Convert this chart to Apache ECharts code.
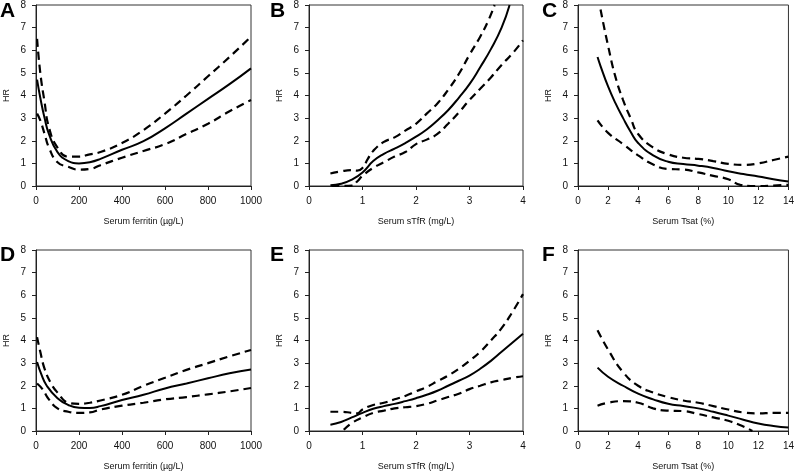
<!DOCTYPE html>
<html>
<head>
<meta charset="utf-8">
<script src="https://cdn.jsdelivr.net/npm/echarts@6/dist/echarts.min.js"></script>
<style>
html,body{margin:0;padding:0;background:#fff;}
#c{width:797px;height:475px;}
</style>
</head>
<body>
<div id="c"></div>
<script>
// ---------- Data ----------
var panelLetters = ['A', 'B', 'C', 'D', 'E', 'F'];
var xNames = ['Serum ferritin (\u00b5g/L)', 'Serum sTfR (mg/L)', 'Serum Tsat (%)'];
var xMax = [1000, 4, 14];
var xInterval = [200, 1, 2];

// Panel A (ferritin, top)
var A_hrX = [5, 20, 40, 60, 100, 150, 200, 250, 300, 400, 500, 600, 700, 800, 900, 1000];
var A_hr = [4.7, 3.9, 3.0, 2.3, 1.5, 1.1, 1.0, 1.05, 1.2, 1.6, 1.98, 2.55, 3.2, 3.85, 4.5, 5.2];
var A_upX = [5, 20, 40, 60, 100, 150, 200, 250, 300, 400, 500, 600, 700, 800, 900, 1000];
var A_up = [6.5, 5.0, 3.7, 2.6, 1.7, 1.3, 1.3, 1.4, 1.5, 1.9, 2.47, 3.2, 4.0, 4.85, 5.7, 6.6];
var A_loX = [5, 20, 40, 60, 100, 150, 200, 250, 300, 400, 500, 600, 700, 800, 900, 1000];
var A_lo = [3.2, 2.9, 2.3, 1.7, 1.05, 0.85, 0.72, 0.75, 0.92, 1.25, 1.55, 1.85, 2.3, 2.75, 3.3, 3.8];

// Panel B (sTfR, top)
var B_hrX = [0.4, 0.6, 0.8, 1.0, 1.2, 1.4, 1.6, 1.8, 2.0, 2.2, 2.4, 2.6, 2.8, 3.0, 3.2, 3.4, 3.6, 3.75];
var B_hr = [0.03, 0.1, 0.28, 0.6, 1.1, 1.42, 1.65, 1.9, 2.18, 2.5, 2.9, 3.35, 3.9, 4.5, 5.25, 6.05, 7.0, 8.0];
var B_upX = [0.4, 0.6, 0.8, 0.9, 1.0, 1.1, 1.2, 1.4, 1.6, 1.8, 2.0, 2.2, 2.4, 2.6, 2.8, 3.0, 3.2, 3.35, 3.47];
var B_up = [0.55, 0.65, 0.7, 0.68, 0.8, 1.2, 1.55, 1.95, 2.15, 2.45, 2.75, 3.2, 3.65, 4.25, 4.95, 5.8, 6.6, 7.3, 8.0];
var B_loX = [0.42, 0.8, 0.9, 1.0, 1.2, 1.4, 1.6, 1.8, 2.0, 2.2, 2.4, 2.6, 2.8, 3.0, 3.2, 3.4, 3.6, 3.8, 4.0];
var B_lo = [0.0, 0.02, 0.2, 0.45, 0.8, 1.05, 1.3, 1.5, 1.85, 2.05, 2.3, 2.75, 3.25, 3.8, 4.3, 4.8, 5.35, 5.85, 6.44];

// Panel C (Tsat, top)
var C_hrX = [1.3, 1.5, 2, 2.5, 3, 3.5, 4, 5, 6, 7, 8, 9, 10, 11, 12, 13, 14];
var C_hr = [5.7, 5.3, 4.4, 3.65, 3.0, 2.4, 1.9, 1.35, 1.07, 0.97, 0.9, 0.8, 0.65, 0.53, 0.42, 0.3, 0.2];
var C_upX = [1.5, 2, 2.5, 3, 3.5, 4, 5, 6, 7, 8, 9, 10, 11, 12, 13, 14];
var C_up = [7.8, 6.2, 4.8, 3.8, 3.0, 2.3, 1.7, 1.4, 1.25, 1.2, 1.1, 0.98, 0.93, 1.0, 1.15, 1.3];
var C_loX = [1.3, 2, 3, 4, 5, 6, 7, 8, 9, 10, 10.8, 11.5, 12, 13, 14];
var C_lo = [2.9, 2.35, 1.85, 1.35, 0.95, 0.75, 0.73, 0.6, 0.45, 0.3, 0.05, 0.0, 0.0, 0.02, 0.05];

// Panel D (ferritin, bottom)
var D_hrX = [5, 25, 50, 100, 150, 200, 250, 300, 400, 500, 600, 700, 800, 900, 1000];
var D_hr = [3.05, 2.5, 2.0, 1.45, 1.15, 1.03, 1.02, 1.1, 1.37, 1.6, 1.88, 2.1, 2.33, 2.55, 2.72];
var D_upX = [5, 20, 40, 70, 100, 150, 200, 250, 300, 400, 500, 600, 700, 800, 900, 1000];
var D_up = [4.15, 3.5, 2.75, 2.1, 1.7, 1.25, 1.2, 1.25, 1.35, 1.6, 2.0, 2.35, 2.7, 3.0, 3.3, 3.58];
var D_loX = [5, 30, 60, 100, 150, 200, 250, 300, 400, 500, 600, 700, 800, 900, 1000];
var D_lo = [2.1, 1.85, 1.4, 1.0, 0.85, 0.8, 0.82, 0.95, 1.12, 1.25, 1.4, 1.5, 1.62, 1.75, 1.9];

// Panel E (sTfR, bottom)
var E_hrX = [0.4, 0.6, 0.8, 1.0, 1.2, 1.4, 1.6, 1.8, 2.0, 2.2, 2.4, 2.6, 2.8, 3.0, 3.2, 3.4, 3.6, 3.8, 4.0];
var E_hr = [0.28, 0.4, 0.6, 0.8, 0.98, 1.1, 1.2, 1.32, 1.45, 1.6, 1.78, 2.0, 2.22, 2.45, 2.75, 3.1, 3.5, 3.9, 4.3];
var E_upX = [0.4, 0.6, 0.8, 0.9, 1.0, 1.2, 1.4, 1.6, 1.8, 2.0, 2.2, 2.4, 2.6, 2.8, 3.0, 3.2, 3.4, 3.6, 3.8, 4.0];
var E_up = [0.85, 0.85, 0.8, 0.78, 0.95, 1.15, 1.25, 1.4, 1.55, 1.75, 1.95, 2.2, 2.45, 2.75, 3.1, 3.5, 4.0, 4.55, 5.25, 6.05];
var E_loX = [0.65, 0.8, 1.0, 1.2, 1.4, 1.6, 1.8, 2.0, 2.2, 2.4, 2.6, 2.8, 3.0, 3.2, 3.4, 3.6, 3.8, 4.0];
var E_lo = [0.05, 0.35, 0.6, 0.8, 0.9, 1.0, 1.05, 1.1, 1.2, 1.35, 1.5, 1.65, 1.85, 2.0, 2.15, 2.25, 2.35, 2.42];

// Panel F (Tsat, bottom)
var F_hrX = [1.3, 2, 3, 4, 5, 6, 7, 8, 9, 10, 11, 12, 13, 14];
var F_hr = [2.8, 2.4, 2.0, 1.65, 1.4, 1.2, 1.1, 1.0, 0.85, 0.68, 0.5, 0.33, 0.22, 0.15];
var F_upX = [1.3, 2, 3, 4, 5, 6, 7, 8, 9, 10, 11, 12, 13, 14];
var F_up = [4.45, 3.6, 2.6, 2.0, 1.7, 1.5, 1.35, 1.25, 1.1, 0.95, 0.82, 0.78, 0.8, 0.8];
var F_loX = [1.3, 2, 3, 4, 5, 6, 7, 8, 9, 10, 11, 11.6];
var F_lo = [1.12, 1.25, 1.32, 1.25, 1.0, 0.9, 0.88, 0.75, 0.6, 0.45, 0.2, 0.0];

var panels = [
  [A_hrX, A_hr, A_upX, A_up, A_loX, A_lo],
  [B_hrX, B_hr, B_upX, B_up, B_loX, B_lo],
  [C_hrX, C_hr, C_upX, C_up, C_loX, C_lo],
  [D_hrX, D_hr, D_upX, D_up, D_loX, D_lo],
  [E_hrX, E_hr, E_upX, E_up, E_loX, E_lo],
  [F_hrX, F_hr, F_upX, F_up, F_loX, F_lo]
];

// ---------- Layout ----------
var gridLefts = [36, 309, 578];
var gridWidths = [215, 214, 213];
var gridTops = [5, 250];
var gridHeight = 181;
var letterX = [0, 270, 542];
var letterY = [11.5, 256];

var FONT = '"Liberation Sans", Arial, sans-serif';
var TXT = '#111';

function zip(xs, ys) { return xs.map(function (x, i) { return [x, ys[i]]; }); }

var grids = [], xAxes = [], yAxes = [], series = [], graphics = [];
for (var p = 0; p < 6; p++) {
  var col = p % 3, row = Math.floor(p / 3);
  grids.push({
    left: gridLefts[col], top: gridTops[row], width: gridWidths[col], height: gridHeight,
    show: true, borderColor: '#333', borderWidth: 1, backgroundColor: 'transparent'
  });
  xAxes.push({
    gridIndex: p, type: 'value', min: 0, max: xMax[col], interval: xInterval[col],
    name: xNames[col], nameLocation: 'middle', nameGap: 31,
    nameTextStyle: { fontFamily: FONT, fontSize: 9, color: TXT },
    axisLine: { show: true, lineStyle: { color: '#222', width: 1 } },
    axisTick: { show: true, inside: false, length: 4, lineStyle: { color: '#222' } },
    axisLabel: { fontFamily: FONT, fontSize: 10, color: TXT, margin: 10,
                 formatter: function (v) { return String(v); } },
    splitLine: { show: false }
  });
  yAxes.push({
    gridIndex: p, type: 'value', min: 0, max: 8, interval: 1,
    name: 'HR', nameLocation: 'middle', nameGap: 25,
    nameTextStyle: { fontFamily: FONT, fontSize: 9, color: TXT },
    axisLine: { show: true, lineStyle: { color: '#222', width: 1 } },
    axisTick: { show: true, inside: false, length: 4, lineStyle: { color: '#222' } },
    axisLabel: { fontFamily: FONT, fontSize: 10, color: TXT, margin: 10 },
    splitLine: { show: false }
  });
  var d = panels[p];
  var common = { type: 'line', xAxisIndex: p, yAxisIndex: p, showSymbol: false, symbol: 'none',
                 smooth: 0.5, clip: true, silent: true, animation: false };
  series.push(Object.assign({}, common, { data: zip(d[0], d[1]), lineStyle: { color: '#000', width: 2, type: 'solid' } }));
  series.push(Object.assign({}, common, { data: zip(d[2], d[3]), lineStyle: { color: '#000', width: 2.2, type: [8, 5] } }));
  series.push(Object.assign({}, common, { data: zip(d[4], d[5]), lineStyle: { color: '#000', width: 2.2, type: [8, 5] } }));
  graphics.push({
    type: 'text', left: letterX[col], top: letterY[row] - 11,
    style: { text: panelLetters[p], font: 'bold 21px ' + FONT, fill: '#000' }
  });
}

var chart = echarts.init(document.getElementById('c'), null, { renderer: 'canvas' });
chart.setOption({
  animation: false,
  backgroundColor: '#fff',
  grid: grids,
  xAxis: xAxes,
  yAxis: yAxes,
  series: series,
  graphic: graphics
});
</script>
</body>
</html>
